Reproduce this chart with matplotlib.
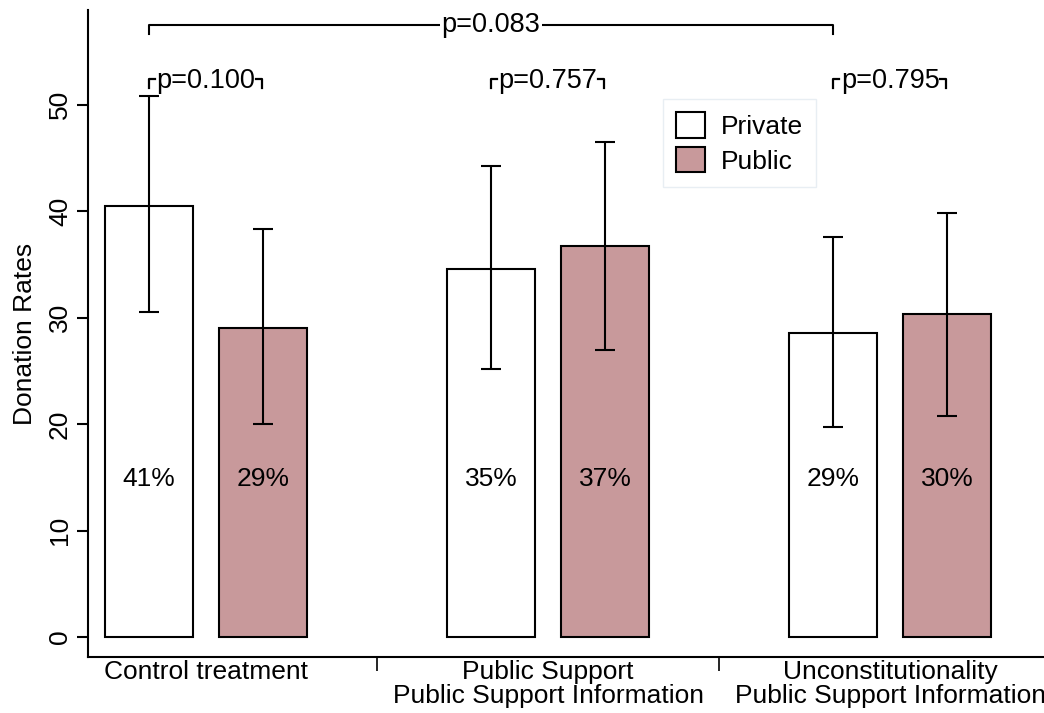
import numpy as np
import matplotlib
matplotlib.use("Agg")
import matplotlib.pyplot as plt
from matplotlib.patches import Patch

plt.rcParams['font.family'] = ['Liberation Sans', 'DejaVu Sans']

# Tasas de donación por tratamiento (privado / público)
groups = ["Control treatment",
          "Public Support\nPublic Support Information",
          "Unconstitutionality\nPublic Support Information"]
private = [40.5, 34.6, 28.6]
public = [29.0, 36.7, 30.3]
private_ci = [(30.5, 50.8), (25.2, 44.2), (19.7, 37.6)]
public_ci = [(20.0, 38.3), (27.0, 46.5), (20.8, 39.8)]
private_lbl = ["41%", "35%", "29%"]
public_lbl = ["29%", "37%", "30%"]
p_within = ["0.100", "0.757", "0.795"]
p_between = "0.083"

pink = "#c8999b"
fs = 19

fig = plt.figure(figsize=(10.44, 7.13), dpi=100)
ax = fig.add_axes([0.0843, 0.0785, 1 - 0.0843, 0.986 - 0.0785])

xc = np.arange(3) * 3.0
xp, xq = xc, xc + 1
w = 0.772

def err(vals, ci):
	vals = np.array(vals)
	lo = vals - np.array([c[0] for c in ci])
	hi = np.array([c[1] for c in ci]) - vals
	return [lo, hi]

ax.bar(xp, private, w, color="white", edgecolor="black", linewidth=1.5, zorder=2)
ax.bar(xq, public, w, color=pink, edgecolor="black", linewidth=1.5, zorder=2)
ax.errorbar(xp, private, yerr=err(private, private_ci), fmt="none", ecolor="black",
	elinewidth=1.5, capsize=7.5, capthick=1.5, zorder=3)
ax.errorbar(xq, public, yerr=err(public, public_ci), fmt="none", ecolor="black",
	elinewidth=1.5, capsize=7.5, capthick=1.5, zorder=3)

for x, t in zip(xp, private_lbl):
	ax.text(x, 14.8, t, ha="center", va="center", fontsize=fs)
for x, t in zip(xq, public_lbl):
	ax.text(x, 14.8, t, ha="center", va="center", fontsize=fs)

ax.set_xlim(-0.535, 7.85)
ax.set_ylim(-1.88, 58.9)

# p-valores dentro de cada grupo
y_base = 51.6
p_texts = []
for x, p in zip(xc + 0.5, p_within):
	p_texts.append(ax.text(x, y_base, "p=" + p, ha="center", va="baseline", fontsize=19.5))

# p-valor entre control y anticonstitucionalidad
ax.plot([xp[0], xp[0], xp[2], xp[2]], [56.6, 57.5, 57.5, 56.6], color="black", lw=1.5,
	clip_on=False)
ax.text((xp[0] + xp[2]) / 2, 57.5, "p=" + p_between, ha="center", va="center",
	fontsize=19.5, bbox=dict(facecolor="white", edgecolor="none", pad=1))

ax.set_yticks([0, 10, 20, 30, 40, 50])
ax.tick_params(axis="y", labelsize=fs, labelrotation=90, length=8, width=1.5)
for t in ax.get_yticklabels():
	t.set_va("center")
ax.set_ylabel("Donation Rates", fontsize=fs, labelpad=8)

ax.set_xticks(xc + 0.5)
ax.set_xticklabels(groups, fontsize=fs, linespacing=1.0)
ax.tick_params(axis="x", length=0, pad=2)
ax.set_xticks([2, 5], minor=True)
ax.tick_params(axis="x", which="minor", length=10, width=1.2)

for s in ["top", "right"]:
	ax.spines[s].set_visible(False)
for s in ["left", "bottom"]:
	ax.spines[s].set_linewidth(1.5)

handles = [Patch(facecolor="white", edgecolor="black", linewidth=1.5, label="Private"),
	Patch(facecolor=pink, edgecolor="black", linewidth=1.5, label="Public")]
leg = ax.legend(handles=handles, loc="upper left", bbox_to_anchor=(0.601, 0.862),
	borderaxespad=0, fontsize=fs, frameon=True, fancybox=False, handlelength=1.1,
	handleheight=1.1, handletextpad=0.6, borderpad=0.5, labelspacing=0.3)
leg.get_frame().set_edgecolor("#e3eaf1")
leg.get_frame().set_linewidth(1.0)

# pequeñas esquinas a los lados de cada p-valor
fig.canvas.draw()
inv = ax.transData.inverted()
px = inv.transform((6, 9)) - inv.transform((0, 0))
for t in p_texts:
	bb = t.get_window_extent()
	x0 = inv.transform((bb.x0 - 8, 0))[0]
	x1 = inv.transform((bb.x1 + 7, 0))[0]
	ax.plot([x0, x0, x0 + px[0]], [y_base, y_base + px[1], y_base + px[1]],
		color="black", lw=1.6, clip_on=False)
	ax.plot([x1, x1, x1 - px[0]], [y_base, y_base + px[1], y_base + px[1]],
		color="black", lw=1.6, clip_on=False)

fig.savefig("out.png", dpi=100)
